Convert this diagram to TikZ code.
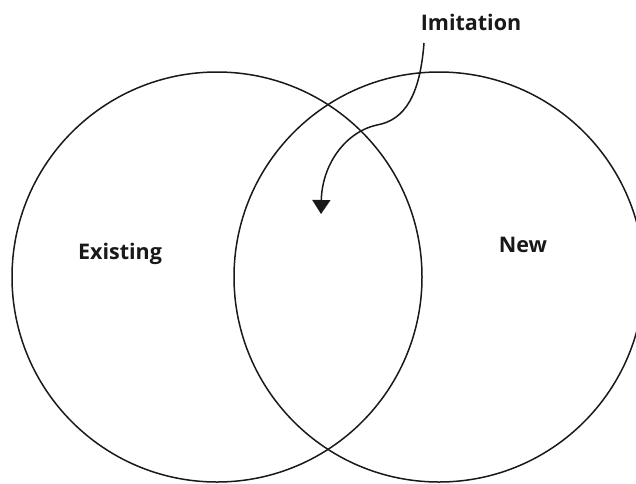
\documentclass[tikz,border=0pt]{standalone}
\usepackage{fontspec}
\setmainfont{Open Sans}
\usetikzlibrary{arrows.meta}
\tikzset{
  setcircle/.style={draw=black!90, line width=1.5pt},
  lbl/.style={font=\bfseries\fontsize{21.5}{24}\selectfont, text=black!90, inner sep=0pt},
  conn/.style={draw=black!90, line width=1.5pt, -{Triangle[width=18pt,length=14pt]}}
}
\begin{document}
\begin{tikzpicture}[x=1pt,y=-1pt]
\useasboundingbox (0,0) rectangle (636,483);
\begin{scope}
\clip (0,0) rectangle (636,483);
\draw[setcircle] (217,277) circle[radius=205];
\draw[setcircle] (439,277) circle[radius=205];
\end{scope}
\node[lbl] (imit) at (471,22.5) {Imitation};
\node[lbl] (exist) at (120,254) {Existing};
\node[lbl] (new) at (523,245) {New};
\coordinate (tip) at (321,214);
\draw[conn] (424,43) .. controls (420,95) and (405,120) .. (377,125)
  .. controls (345,132) and (322,165) .. (tip);
\end{tikzpicture}
\end{document}
